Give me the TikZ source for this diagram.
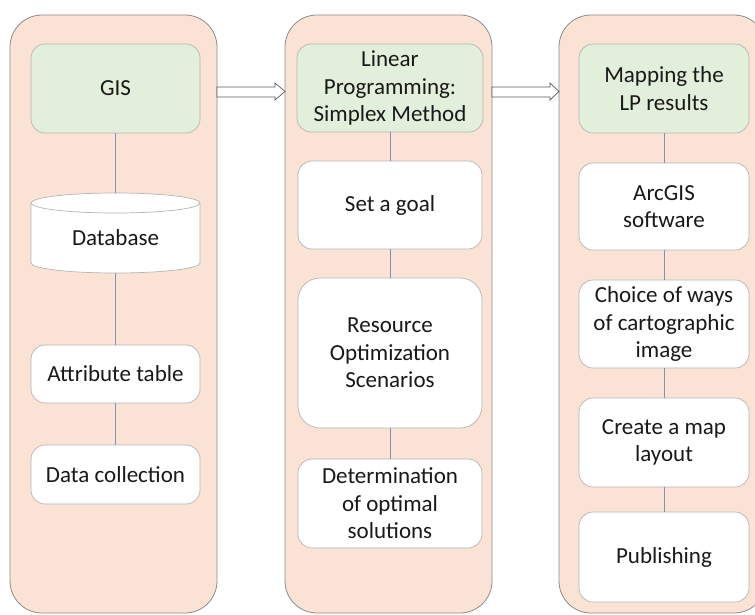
\documentclass[tikz,border=0pt]{standalone}
\usepackage{fontspec}
\setmainfont{Carlito}
\usetikzlibrary{calc}
\definecolor{panelfill}{HTML}{FAE3D5}
\definecolor{panelline}{HTML}{8C8C8C}
\definecolor{greenfill}{HTML}{E2EFDA}
\definecolor{boxline}{HTML}{B5B5B5}
\definecolor{linkcol}{HTML}{7F93B0}
\definecolor{arrowline}{HTML}{5A5A5A}
\begin{document}
\begin{tikzpicture}[x=1pt,y=-1pt,
  panel/.style={draw=panelline, fill=panelfill, rounded corners=32pt, minimum width=207pt, minimum height=598pt, line width=0.8pt, inner sep=0pt},
  txt/.style={font=\fontsize{23}{27.5}\selectfont, text=black!90},
  boxbase/.style={txt, draw=boxline, rounded corners=14pt, align=center, inner sep=0pt, line width=0.7pt},
  headbox/.style={boxbase, fill=greenfill},
  stepbox/.style={boxbase, fill=white},
  link/.style={draw=linkcol, line width=0.8pt},
  blockarrow/.style={draw=arrowline, fill=white, line width=0.7pt}
]
\useasboundingbox (0,0) rectangle (755,615);
\clip (0,0) rectangle (755,615);
\fill[white] (0,0) rectangle (755,615);

% panels
\node[panel] (p1) at (113.5,314) {};
\node[panel] (p2) at (388.5,314) {};
\node[panel] (p3) at (662.5,314) {};

% block arrows
\draw[blockarrow] (217,87) -- (275,87) -- (275,83) -- (285,91.5) -- (275,100) -- (275,97) -- (217,97) -- cycle;
\draw[blockarrow] (492,87) -- (550,87) -- (550,83) -- (559,91.5) -- (550,100) -- (550,97) -- (492,97) -- cycle;

% column 1
\node[headbox, minimum width=169pt, minimum height=89pt] (gis) at (115.5,88.5) {GIS};
\node[minimum width=169pt, minimum height=80pt, inner sep=0pt] (db) at (115.5,233) {};
\draw[draw=boxline, fill=white, line width=0.7pt]
  (31,203) -- (31,263) arc[start angle=180, end angle=360, x radius=84.5pt, y radius=10pt]
  -- (200,203) arc[start angle=0, end angle=180, x radius=84.5pt, y radius=10pt] -- cycle;
\draw[draw=boxline, line width=0.7pt] (31,203) arc[start angle=180, end angle=360, x radius=84.5pt, y radius=10pt];
\node[txt] at (115.5,238) {Database};
\node[stepbox, minimum width=169pt, minimum height=58pt] (attr) at (115.5,374) {Attribute table};
\node[stepbox, minimum width=169pt, minimum height=59pt] (data) at (115.5,474.5) {Data collection};
\draw[link] (gis.south) -- (db.north);
\draw[link] (db.south) -- (attr.north);
\draw[link] (attr.south) -- (data.north);

% column 2
\node[headbox, minimum width=186pt, minimum height=88pt] (lp) at (390,88) {Linear\\Programming:\\Simplex Method};
\node[stepbox, minimum width=184pt, minimum height=88pt] (goal) at (390,205) {Set a goal};
\node[stepbox, rounded corners=22pt, minimum width=184pt, minimum height=150pt] (res) at (390,353) {Resource\\Optimization\\Scenarios};
\node[stepbox, minimum width=184pt, minimum height=89pt] (det) at (390,503.5) {Determination\\of optimal\\solutions};
\draw[link] (lp.south) -- (goal.north);
\draw[link] (goal.south) -- (res.north);
\draw[link] (res.south) -- (det.north);

% column 3
\node[headbox, minimum width=170pt, minimum height=89pt] (map) at (664,88.5) {Mapping the\\LP results};
\node[stepbox, minimum width=170pt, minimum height=87pt] (arc) at (664,206.5) {ArcGIS\\software};
\node[stepbox, minimum width=170pt, minimum height=88pt] (choice) at (664,324) {Choice of ways\\of cartographic\\image};
\node[stepbox, minimum width=170pt, minimum height=89pt] (layout) at (664,442.5) {Create a map\\layout};
\node[stepbox, minimum width=170pt, minimum height=90pt] (pub) at (664,557) {Publishing};
\draw[link] (map.south) -- (arc.north);
\draw[link] (arc.south) -- (choice.north);
\draw[link] (choice.south) -- (layout.north);
\draw[link] (layout.south) -- (pub.north);
\end{tikzpicture}
\end{document}
